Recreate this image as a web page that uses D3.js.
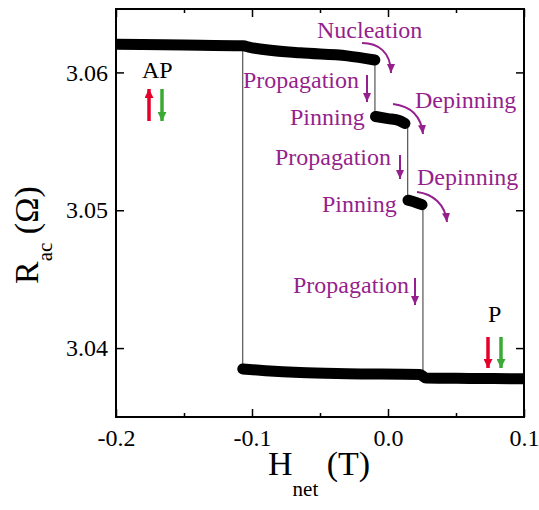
<!DOCTYPE html>
<html>
<head>
<meta charset="utf-8">
<script src="https://cdn.jsdelivr.net/npm/d3@7"></script>
<style>
  body { margin: 0; background: #fff; }
  text { font-family: "Liberation Serif", "Times New Roman", serif; }
</style>
</head>
<body>
<script>
// Data: field H (T) and resistance R (ohm)
// upper branch (AP state)
const apH = [-0.2, -0.15, -0.1066, -0.1015, -0.0647, -0.03, -0.0097];
const apR = [3.06204, 3.06199, 3.06193, 3.06182, 3.06142, 3.0612, 3.0609];
// first pinned state
const pin1H = [-0.0092, 0.0, 0.0081, 0.0125];
const pin1R = [3.0568, 3.05665, 3.05651, 3.05629];
// second pinned state
const pin2H = [0.0147, 0.02, 0.025];
const pin2R = [3.05073, 3.05058, 3.0504];
// lower branch (P state)
const pH = [-0.1068, -0.09, -0.0647, -0.03, 0.0235, 0.0279, 0.06, 0.1];
const pR = [3.03849, 3.03836, 3.03822, 3.03814, 3.03808, 3.03783, 3.0378, 3.03777];
// switching jumps (thin lines)
const jumpH = [-0.1068, -0.0096, 0.0145, 0.0257];
const jumpFrom = [3.06193, 3.0609, 3.0562, 3.0504];
const jumpTo = [3.03849, 3.0568, 3.0508, 3.03795];

const xTicks = [-0.2, -0.1, 0.0, 0.1];
const xMinor = [-0.15, -0.05, 0.05];
const yTicks = [3.04, 3.05, 3.06];

let width = 539, height = 510;
let margin = {top: 9, right: 15, bottom: 93, left: 116};

let svg = d3.select("body").append("svg")
    .attr("width", width)
    .attr("height", height)
    .attr("font-family", "Liberation Serif");

let x = d3.scaleLinear().domain([-0.2, 0.1]).range([margin.left, width - margin.right]);
let y = d3.scaleLinear().domain([3.035, 3.0646]).range([height - margin.bottom, margin.top]);

let purple = "#951f8c";

// arrow heads
let defs = svg.append("defs");
function head(id, color, w, l) {
  defs.append("marker")
    .attr("id", id)
    .attr("markerUnits", "userSpaceOnUse")
    .attr("viewBox", `0 ${-w / 2} ${l} ${w}`)
    .attr("refX", l).attr("refY", 0)
    .attr("markerWidth", l).attr("markerHeight", w)
    .attr("orient", "auto")
    .append("path")
    .attr("d", `M0,${-w / 2}L${l},0L0,${w / 2}Z`)
    .attr("fill", color);
}
head("hp", purple, 8, 9);
head("hr", "#e4002b", 9, 9);
head("hg", "#3ba935", 9, 9);

defs.append("clipPath").attr("id", "plot")
  .append("rect")
  .attr("x", x.range()[0]).attr("y", y.range()[1])
  .attr("width", x.range()[1] - x.range()[0])
  .attr("height", y.range()[0] - y.range()[1]);

let plot = svg.append("g").attr("clip-path", "url(#plot)");

// thin switching lines
plot.selectAll("line.jump")
  .data(jumpH)
  .join("line")
  .attr("class", "jump")
  .attr("x1", d => x(d)).attr("x2", d => x(d))
  .attr("y1", (d, i) => y(jumpFrom[i]))
  .attr("y2", (d, i) => y(jumpTo[i]))
  .attr("stroke", "#333")
  .attr("stroke-width", 1);

// thick data bands
let line = d3.line().curve(d3.curveMonotoneX).x(d => x(d[0])).y(d => y(d[1]));
let bands = [
  d3.zip(apH, apR),
  d3.zip(pin1H, pin1R),
  d3.zip(pin2H, pin2R),
  d3.zip(pH, pR)
];
plot.selectAll("path.band")
  .data(bands)
  .join("path")
  .attr("class", "band")
  .attr("d", line)
  .attr("fill", "none")
  .attr("stroke", "#000")
  .attr("stroke-width", 11)
  .attr("stroke-linecap", "round")
  .attr("stroke-linejoin", "round");

// axes
let fs = "24px";
svg.append("g")
  .attr("transform", `translate(0,${y.range()[0]})`)
  .call(d3.axisBottom(x).tickValues(xTicks).tickSize(-8).tickPadding(12)
        .tickFormat(d => d.toFixed(1)));
svg.append("g")
  .attr("transform", `translate(0,${y.range()[0]})`)
  .call(d3.axisBottom(x).tickValues(xMinor).tickSize(-4).tickFormat(""));
svg.append("g")
  .attr("transform", `translate(0,${y.range()[1]})`)
  .call(d3.axisTop(x).tickValues(xTicks).tickSize(-8).tickFormat(""));
svg.append("g")
  .attr("transform", `translate(0,${y.range()[1]})`)
  .call(d3.axisTop(x).tickValues(xMinor).tickSize(-4).tickFormat(""));
svg.append("g")
  .attr("transform", `translate(${x.range()[0]},0)`)
  .call(d3.axisLeft(y).tickValues(yTicks).tickSize(-8).tickPadding(8)
        .tickFormat(d => d.toFixed(2)));
svg.append("g")
  .attr("transform", `translate(${x.range()[1]},0)`)
  .call(d3.axisRight(y).tickValues(yTicks).tickSize(-8).tickFormat(""));

svg.selectAll(".domain").remove();
svg.selectAll(".tick line").attr("stroke", "#000").attr("stroke-width", 1.5);
svg.selectAll("g").filter(function() { return this.hasAttribute("font-family"); })
  .attr("font-family", "Liberation Serif");
svg.selectAll(".tick text")
  .attr("font-size", fs)
  .attr("fill", "#000");

// frame
svg.append("rect")
  .attr("x", x.range()[0]).attr("y", y.range()[1])
  .attr("width", x.range()[1] - x.range()[0])
  .attr("height", y.range()[0] - y.range()[1])
  .attr("fill", "none")
  .attr("stroke", "#000")
  .attr("stroke-width", 2);

// axis titles
let xt = svg.append("text")
  .attr("x", 268).attr("y", 475)
  .attr("font-size", "34px").attr("fill", "#000");
xt.append("tspan").text("H");
xt.append("tspan").attr("font-size", "21px").attr("dy", 21).text("net");
xt.append("tspan").attr("dy", -21).text(" (T)");

let yt = svg.append("text")
  .attr("transform", "translate(38,284) rotate(-90)")
  .attr("font-size", "34px").attr("fill", "#000");
yt.append("tspan").text("R");
yt.append("tspan").attr("font-size", "21px").attr("dy", 14).text("ac");
yt.append("tspan").attr("dy", -14).text(" (Ω)");

// annotations
let notes = [
  ["Nucleation", 317, 38],
  ["Propagation", 243, 88],
  ["Pinning", 290, 125],
  ["Depinning", 415, 108],
  ["Propagation", 275, 165],
  ["Pinning", 322, 212],
  ["Depinning", 417, 185],
  ["Propagation", 293, 293]
];
svg.selectAll("text.note")
  .data(notes)
  .join("text")
  .attr("class", "note")
  .attr("x", d => d[1]).attr("y", d => d[2])
  .attr("font-size", fs)
  .attr("fill", purple)
  .text(d => d[0]);

svg.append("text").attr("x", 142).attr("y", 78).attr("font-size", fs).text("AP");
svg.append("text").attr("x", 488).attr("y", 322).attr("font-size", fs).text("P");

let arrows = [
  ["M367,75L367,102", "hp", purple, 2],
  ["M400,155L400,179", "hp", purple, 2],
  ["M415,278L415,305", "hp", purple, 2],
  ["M362,43C378,43 391,52 391,73", "hp", purple, 2],
  ["M393,104C410,106 421,116 423,134", "hp", purple, 2],
  ["M417,192C433,194 445,204 447,222", "hp", purple, 2],
  ["M149,121L149,89", "hr", "#e4002b", 3.5],
  ["M162,89L162,121", "hg", "#3ba935", 3.5],
  ["M488,337L488,368", "hr", "#e4002b", 3.5],
  ["M501,337L501,368", "hg", "#3ba935", 3.5]
];
svg.selectAll("path.arr")
  .data(arrows)
  .join("path")
  .attr("class", "arr")
  .attr("d", d => d[0])
  .attr("fill", "none")
  .attr("stroke", d => d[2])
  .attr("stroke-width", d => d[3])
  .attr("marker-end", d => `url(#${d[1]})`);
</script>
</body>
</html>
